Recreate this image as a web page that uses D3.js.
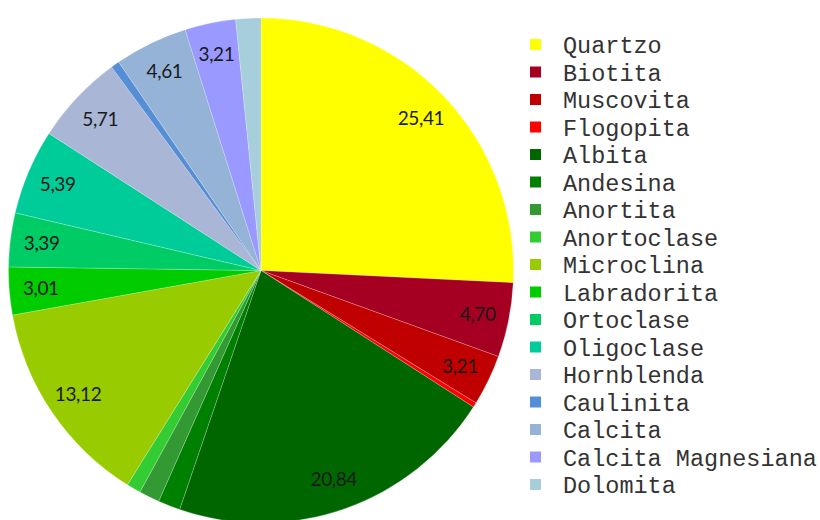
<!DOCTYPE html>
<html>
<head>
<meta charset="utf-8">
<script src="https://cdn.jsdelivr.net/npm/d3@7"></script>
<style>
  html, body { margin: 0; padding: 0; background: #fff; }
  svg { display: block; }
</style>
</head>
<body>
<svg id="chart" width="820" height="520"></svg>
<script>
// mineral names, shares (%) and fill colours, in drawing order
const minerals = [
  'Quartzo', 'Biotita', 'Muscovita', 'Flogopita', 'Albita', 'Andesina',
  'Anortita', 'Anortoclase', 'Microclina', 'Labradorita', 'Ortoclase',
  'Oligoclase', 'Hornblenda', 'Caulinita', 'Calcita', 'Calcita Magnesiana',
  'Dolomita'
];
const shares = [
  25.41, 4.70, 3.21, 0.30, 20.84, 1.40,
  1.30, 0.90, 13.12, 3.01, 3.39,
  5.39, 5.71, 0.54, 4.61, 3.21,
  1.58
];
const colors = [
  '#ffff00', '#a50021', '#c00000', '#ff0000', '#006600', '#008000',
  '#339933', '#33cc33', '#99cc00', '#00cc00', '#00cc66',
  '#00cc99', '#a9b6d6', '#558ed5', '#95b3d7', '#9999ff',
  '#a6cedb'
];
// only slices of at least this size get a value label
const LABEL_MIN = 3;

const W = 820, H = 520;
const CX = 261, CY = 270.5, R = 252.5;

const svg = d3.select('#chart');

const rows = minerals.map((name, i) => ({ name, value: shares[i], color: colors[i] }));

const pie = d3.pie().sort(null).value(d => d.value);
const arc = d3.arc().innerRadius(0).outerRadius(R);
const labelArc = d3.arc().innerRadius(R * 0.875).outerRadius(R * 0.875);

const fmt = v => d3.format('.2f')(v).replace('.', ',');

const pieG = svg.append('g').attr('transform', `translate(${CX},${CY})`);

pieG.selectAll('path.slice')
  .data(pie(rows))
  .join('path')
    .attr('class', 'slice')
    .attr('d', arc)
    .attr('fill', d => d.data.color)
    .attr('stroke', '#ffffff')
    .attr('stroke-opacity', 0.35)
    .attr('stroke-width', 0.6);

pieG.selectAll('text.val')
  .data(pie(rows).filter(d => d.data.value >= LABEL_MIN))
  .join('text')
    .attr('class', 'val')
    .attr('transform', d => `translate(${labelArc.centroid(d)})`)
    .attr('text-anchor', 'middle')
    .attr('dy', '0.35em')
    .style('font-family', 'Lato, "Open Sans", sans-serif')
    .style('font-size', '19px')
    .style('letter-spacing', '-0.4px')
    .attr('fill', '#1a1a1a')
    .text(d => fmt(d.data.value));

// legend
const ly = d3.scalePoint().domain(minerals).range([45, 485]);

const legend = svg.append('g');
const item = legend.selectAll('g.item')
  .data(rows)
  .join('g')
    .attr('class', 'item')
    .attr('transform', d => `translate(530,${ly(d.name)})`);

item.append('rect')
  .attr('x', 0)
  .attr('y', -6)
  .attr('width', 11)
  .attr('height', 11)
  .attr('fill', d => d.color);

item.append('text')
  .attr('x', 33)
  .attr('dy', '0.35em')
  .style('font-family', '"Liberation Mono", "Courier New", monospace')
  .style('font-size', '23.5px')
  .attr('fill', '#333')
  .text(d => d.name);
</script>
</body>
</html>
